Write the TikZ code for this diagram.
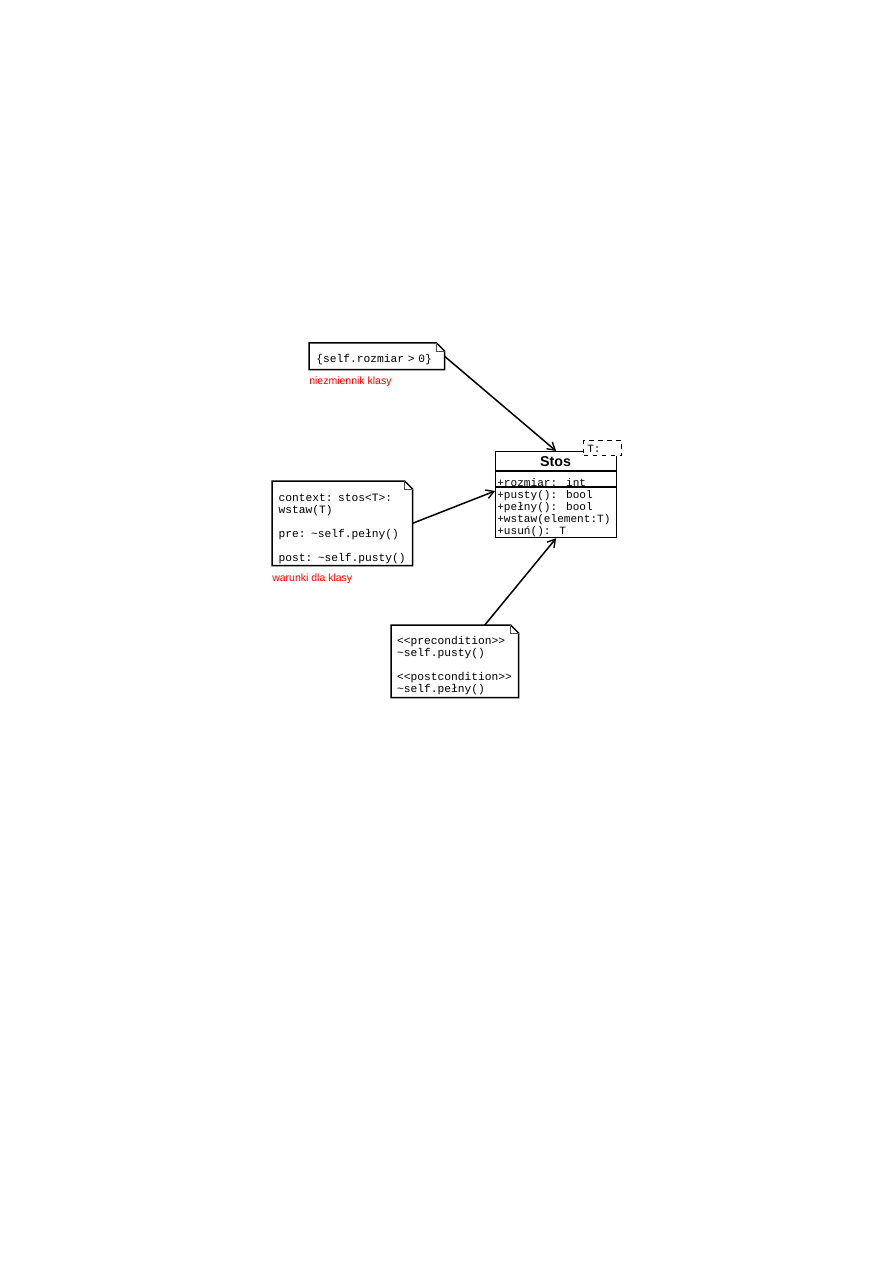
\documentclass[tikz,border=0pt]{standalone}
\usepackage{fontspec}
\setmainfont{Liberation Sans}
\newfontfamily\umlmono{Liberation Mono}
\usetikzlibrary{arrows.meta,calc}
\begin{document}
\begin{tikzpicture}[x=0.6666pt,y=-0.6666pt,
  notebox/.style={draw=none,anchor=north west,inner sep=0pt},
  notetext/.style={anchor=center,inner sep=0pt,align=left,font=\umlmono\fontsize{7.5}{8}\selectfont},
  monotext/.style={anchor=west,inner sep=0pt,font=\umlmono\fontsize{7.4}{8}\selectfont},
  redlabel/.style={anchor=west,inner sep=0pt,text=red,font=\fontsize{7}{8}\selectfont},
  noteline/.style={line width=1pt,black},
  foldline/.style={line width=0.5pt,black!70},
  link/.style={line width=1pt,-{Straight Barb[length=5pt,width=6pt,line width=0.9pt]}}
]
\useasboundingbox (0,0) rectangle (893,1263);

% note 1
\node[notebox,minimum width=135*0.6666pt,minimum height=26*0.6666pt] (n1) at (309,343) {};
\node[notetext,text width=82pt] (n1t) at ($(n1.center)+(1,3)$) {\{self.rozmiar > 0\}};
\draw[noteline] (n1.north west) -- ($(n1.north east)+(-8,0)$) -- ($(n1.north east)+(0,8)$) -- (n1.south east) -- (n1.south west) -- cycle;
\draw[foldline] ($(n1.north east)+(-8,0)$) -- ($(n1.north east)+(-8,8)$) -- ($(n1.north east)+(0,8)$);
\node[redlabel] (l1) at (309,382) {niezmiennik klasy};

% note 2
\node[notebox,minimum width=140*0.6666pt,minimum height=84*0.6666pt] (n2) at (272,481) {};
\node[notetext,text width=85pt] (n2t) at ($(n2.center)+(0,6)$) {context: stos<T>:\\wstaw(T)\\[8pt]pre: \textasciitilde self.pełny()\\[8pt]post: \textasciitilde self.pusty()};
\draw[noteline] (n2.north west) -- ($(n2.north east)+(-8,0)$) -- ($(n2.north east)+(0,8)$) -- (n2.south east) -- (n2.south west) -- cycle;
\draw[foldline] ($(n2.north east)+(-8,0)$) -- ($(n2.north east)+(-8,8)$) -- ($(n2.north east)+(0,8)$);
\node[redlabel] (l2) at (272,579) {warunki dla klasy};

% note 3
\node[notebox,minimum width=127*0.6666pt,minimum height=72*0.6666pt] (n3) at (391,625) {};
\node[notetext,text width=77pt] (n3t) at ($(n3.center)+(0,4)$) {<{}<precondition>{}>\\\textasciitilde self.pusty()\\[8pt]<{}<postcondition>{}>\\\textasciitilde self.pełny()};
\draw[noteline] (n3.north west) -- ($(n3.north east)+(-8,0)$) -- ($(n3.north east)+(0,8)$) -- (n3.south east) -- (n3.south west) -- cycle;
\draw[foldline] ($(n3.north east)+(-8,0)$) -- ($(n3.north east)+(-8,8)$) -- ($(n3.north east)+(0,8)$);

% class Stos
\node[draw,line width=0.8pt,anchor=north west,minimum width=121*0.6666pt,minimum height=86*0.6666pt,inner sep=0pt] (stos) at (495,451) {};
\node[anchor=center,inner sep=0pt,font=\bfseries\fontsize{9.5}{10}\selectfont] (title) at (555.5,462) {Stos};
\draw[line width=0.8pt] ($(stos.north west)+(0,20)$) -- ($(stos.north east)+(0,20)$);
\draw[line width=1.4pt] ($(stos.north west)+(0,36)$) -- ($(stos.north east)+(0,36)$);
\node[monotext] (a1) at (497,483) {+rozmiar: int};
\node[monotext] (o1) at (497,496) {+pusty(): bool};
\node[monotext] (o2) at (497,508) {+pełny(): bool};
\node[monotext] (o3) at (497,520) {+wstaw(element:T)};
\node[monotext] (o4) at (497,532) {+usuń(): T};

% template parameter box
\node[draw,dashed,fill=white,line width=0.8pt,anchor=north west,minimum width=38*0.6666pt,minimum height=15*0.6666pt,inner sep=0pt] (tpl) at (583,440) {};
\node[monotext] (tplt) at (587,449) {T:};

% connectors
\draw[link] (n1.east) -- (stos.north);
\draw[link] (n2.east) -- ($(stos.north west)+(0,40)$);
\draw[link] ($(n3.north)+(30,0)$) -- (stos.south);
\end{tikzpicture}
\end{document}
